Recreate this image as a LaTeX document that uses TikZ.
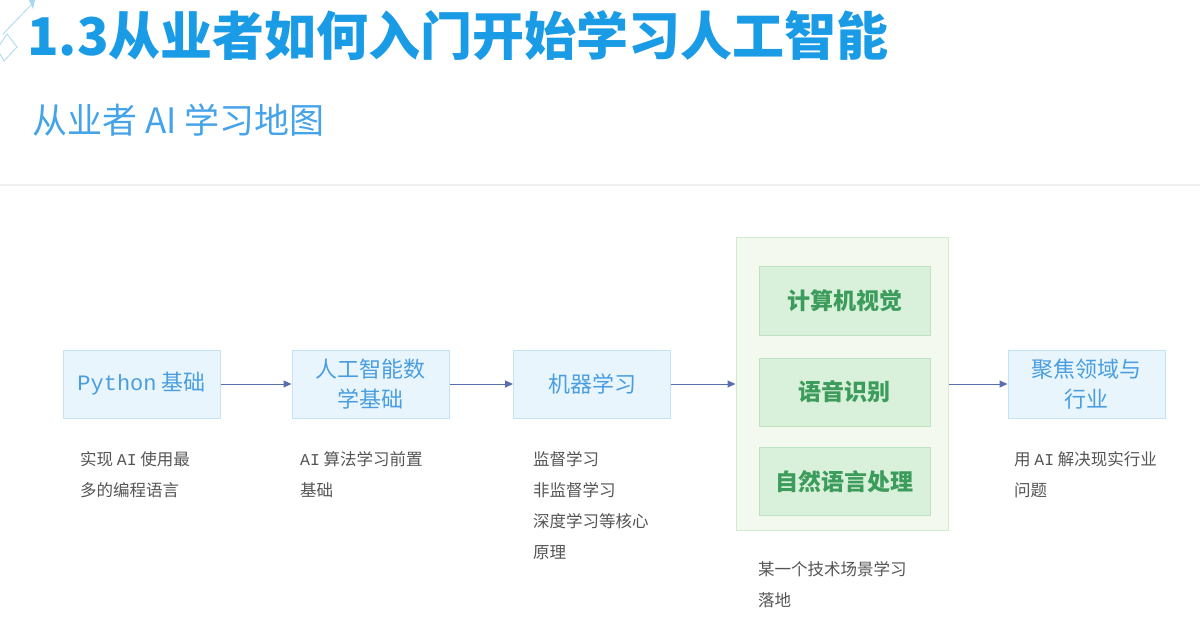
\documentclass[tikz,border=0pt]{standalone}
\usepackage{fontspec}
\setmainfont{Noto Sans CJK SC}
\newfontfamily\cjk{Noto Sans CJK SC}
\newfontfamily\monof{Liberation Mono}
\usetikzlibrary{arrows.meta}
\definecolor{titleblue}{HTML}{1A9BE6}
\definecolor{subblue}{HTML}{45A3EA}
\definecolor{boxfill}{HTML}{E9F5FD}
\definecolor{boxdraw}{HTML}{C6E3F5}
\definecolor{boxtext}{HTML}{4A9EE0}
\definecolor{gfill}{HTML}{F3F9EF}
\definecolor{gdraw}{HTML}{D3EBCF}
\definecolor{ginfill}{HTML}{D9F0DA}
\definecolor{gindraw}{HTML}{BEE2C1}
\definecolor{gtext}{HTML}{3C9C5C}
\definecolor{arrowc}{HTML}{5A6DAE}
\definecolor{desc}{HTML}{555555}
\definecolor{deco}{HTML}{A6D8F0}
\definecolor{sep}{HTML}{F0F0F0}
\tikzset{
  bluebox/.style={draw=boxdraw, fill=boxfill, line width=1pt, minimum width=157pt, minimum height=68pt, inner sep=0pt, align=center, text=boxtext, font=\cjk\fontsize{22}{30}\selectfont},
  greenbox/.style={draw=gindraw, fill=ginfill, line width=1pt, minimum width=171pt, minimum height=68pt, inner sep=0pt, align=center, text=gtext, font=\cjk\bfseries\fontsize{23}{28}\selectfont},
  bigbox/.style={draw=gdraw, fill=gfill, line width=1pt, minimum width=212pt, minimum height=292pt, inner sep=0pt},
  desctext/.style={anchor=north west, inner sep=0pt, align=left, text=desc, font=\cjk\fontsize{16.5}{31}\selectfont},
  flow/.style={draw=arrowc, line width=1pt, -{Triangle[length=8pt,width=7pt]}}
}
\begin{document}
\begin{tikzpicture}[x=1pt,y=-1pt]
\useasboundingbox[fill=white] (0,0) rectangle (1200,631);
% decoration
\draw[deco, line width=0.8pt] (33,3) -- (3,34);
\draw[deco, line width=0.8pt] (7,34) -- (17,47) -- (4,61) -- (-3,49) -- cycle;
\fill[deco] (29,0) -- (35,0) -- (33,9) -- cycle;
% title
\node[anchor=west, inner sep=0pt, text=titleblue, font=\cjk\bfseries\fontsize{52}{60}\selectfont] (title) at (27,36) {1.3从业者如何入门开始学习人工智能};
\node[anchor=west, inner sep=0pt, text=subblue, font=\cjk\fontsize{35}{40}\selectfont] (sub) at (32,120) {从业者 AI 学习地图};
\draw[sep, line width=1.5pt] (0,185) -- (1200,185);
% boxes
\node[bluebox] (py) at (141.5,384) {{\monof Python} 基础};
\node[bluebox] (math) at (370.5,384) {人工智能数\\学基础};
\node[bluebox] (ml) at (592,384) {机器学习};
\node[bigbox] (grp) at (842,384) {};
\node[greenbox] (cv) at (844.5,301) {计算机视觉};
\node[greenbox] (asr) at (844.5,392) {语音识别};
\node[greenbox] (nlp) at (844.5,481.5) {自然语言处理};
\node[bluebox] (ind) at (1086.5,384) {聚焦领域与\\行业};
% arrows
\draw[flow] (py.east) -- (math.west);
\draw[flow] (math.east) -- (ml.west);
\draw[flow] (ml.east) -- (grp.west);
\draw[flow] (grp.east) -- (ind.west);
% descriptions
\node[desctext] (d1) at (80,451) {实现 {\monof AI} 使用最\\多的编程语言};
\node[desctext] (d2) at (300,451) {{\monof AI} 算法学习前置\\基础};
\node[desctext] (d3) at (533,451) {监督学习\\非监督学习\\深度学习等核心\\原理};
\node[desctext] (d4) at (758,561) {某一个技术场景学习\\落地};
\node[desctext] (d5) at (1014,451) {用 {\monof AI} 解决现实行业\\问题};
\end{tikzpicture}
\end{document}
